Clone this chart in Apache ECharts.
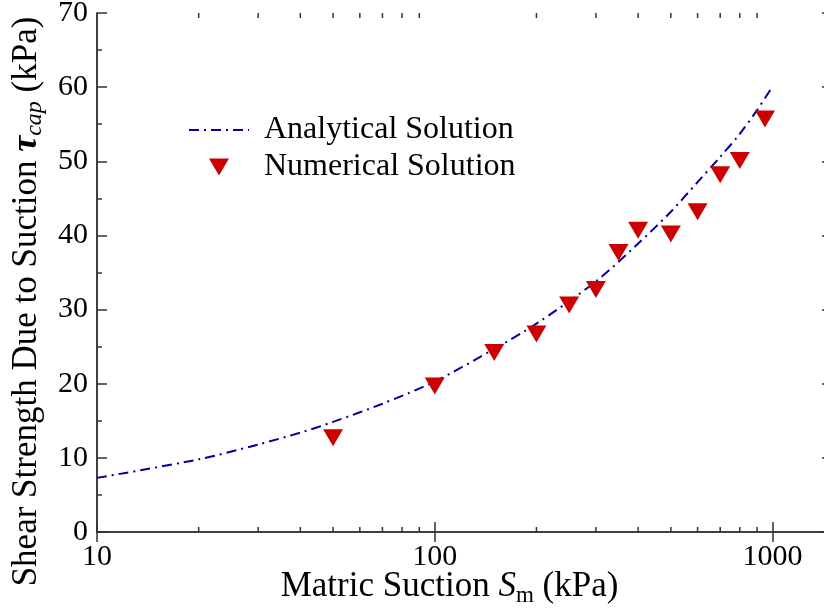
<!DOCTYPE html>
<html>
<head>
<meta charset="utf-8">
<script src="https://cdn.jsdelivr.net/npm/echarts@6/dist/echarts.min.js"></script>
<style>
  html, body { margin: 0; padding: 0; background: #fff; }
  #chart { width: 824px; height: 608px; }
</style>
</head>
<body>
<div id="chart"></div>
<script>
// Analytical curve: matric suction (kPa) vs. shear strength due to suction (kPa)
const analyticalSuction = [10, 20, 30, 40, 50, 70, 100, 150, 200, 300, 400, 500, 600, 700, 800, 900, 1000];
const analyticalStrength = [7.3, 9.8, 11.8, 13.4, 14.85, 17.3, 20.3, 24.7, 28.1, 33.8, 38.9, 43.2, 47.2, 50.6, 53.7, 56.9, 60.1];

// Numerical results
const numericalSuction = [50, 100, 150, 200, 250, 300, 350, 400, 500, 600, 700, 800, 950];
const numericalStrength = [12.7, 19.7, 24.2, 26.7, 30.6, 32.7, 37.7, 40.7, 40.2, 43.2, 48.2, 50.1, 55.7];

// Intermediate (minor) ticks of the logarithmic suction axis
const xMinorTicks = [20, 30, 40, 50, 60, 70, 80, 90, 200, 300, 400, 500, 600, 700, 800, 900];

const X_MIN = 10, X_MAX = 1500;
const Y_MIN = 0, Y_MAX = 70, Y_STEP = 10;

const FONT = 'Liberation Serif';
const AXIS_COLOR = '#333';

const chart = echarts.init(document.getElementById('chart'), null, { renderer: 'canvas' });

const xAxisBase = {
  type: 'log', logBase: 10, min: X_MIN, max: X_MAX,
  axisLine: { show: true, lineStyle: { color: AXIS_COLOR, width: 1.6 } },
  axisTick: { show: true, inside: true, length: 10, lineStyle: { color: AXIS_COLOR, width: 1.5 } },
  splitLine: { show: false },
  minorTick: { show: false }
};
const yAxisBase = {
  type: 'value', min: Y_MIN, max: Y_MAX, interval: Y_STEP,
  axisLine: { show: true, lineStyle: { color: '#111', width: 1.6 } },
  axisTick: { show: true, inside: true, length: 10, lineStyle: { color: AXIS_COLOR, width: 1.5 } },
  minorTick: { show: true, splitNumber: 2, length: 5, lineStyle: { color: AXIS_COLOR, width: 1.5 } },
  splitLine: { show: false }
};

const tickLabel = { fontFamily: FONT, fontSize: 30, color: '#000' };

const option = {
  animation: false,
  backgroundColor: '#fff',
  grid: { left: 97, top: 13, right: -8, bottom: 76, outerBoundsMode: 'none', containLabel: false },
  legend: {
    orient: 'vertical', left: 183, top: 109,
    itemWidth: 60, itemHeight: 17, itemGap: 5,
    textStyle: { fontFamily: FONT, fontSize: 32, color: '#000', padding: [0, 0, 0, 10] },
    data: [
      { name: 'Analytical Solution', itemStyle: { opacity: 0 } },
      { name: 'Numerical Solution', icon: 'path://M0,0L20,0L10,17Z' }
    ]
  },
  xAxis: [
    Object.assign({}, xAxisBase, {
      position: 'bottom',
      axisLabel: Object.assign({
        margin: 10, showMaxLabel: false,
        formatter: function (v) { return String(Math.round(v)); }
      }, tickLabel),
      name: '{a|Matric Suction }{i|S}{sub|m}{a| (kPa)}',
      nameLocation: 'middle', nameGap: 35, nameMoveOverlap: false,
      nameTextStyle: {
        padding: [0, 30, 0, 0],
        rich: {
          a: { fontFamily: FONT, fontSize: 35, color: '#000', lineHeight: 40 },
          i: { fontFamily: FONT, fontSize: 35, fontStyle: 'italic', color: '#000', lineHeight: 40 },
          sub: { fontFamily: FONT, fontSize: 23, color: '#000', verticalAlign: 'bottom', lineHeight: 24 }
        }
      }
    }),
    Object.assign({}, xAxisBase, {
      position: 'top',
      axisLabel: { show: false }
    })
  ],
  yAxis: [
    Object.assign({}, yAxisBase, {
      position: 'left',
      axisLabel: Object.assign({ margin: 9 }, tickLabel),
      name: '{a|Shear Strength Due to Suction }{t|τ}{sub|cap}{a| (kPa)}',
      nameLocation: 'middle', nameGap: 50, nameRotate: 90, nameMoveOverlap: false,
      nameTextStyle: {
        padding: [0, 58, 0, 0],
        rich: {
          a: { fontFamily: FONT, fontSize: 35, color: '#000', lineHeight: 40 },
          t: { fontFamily: FONT, fontSize: 36, fontStyle: 'italic', fontWeight: 'bold', color: '#000', lineHeight: 40 },
          sub: { fontFamily: FONT, fontSize: 24, fontStyle: 'italic', color: '#000', verticalAlign: 'bottom', lineHeight: 25 }
        }
      }
    }),
    Object.assign({}, yAxisBase, {
      position: 'right',
      axisLine: { show: true, lineStyle: { color: AXIS_COLOR, width: 1.6 } },
      minorTick: { show: false },
      axisLabel: { show: false }
    })
  ],
  series: [
    {
      name: 'Analytical Solution',
      type: 'line',
      xAxisIndex: 0, yAxisIndex: 0,
      data: analyticalSuction.map((s, i) => [s, analyticalStrength[i]]),
      smooth: 0.3,
      showSymbol: false,
      symbol: 'none',
      lineStyle: { color: '#0000a0', width: 2, type: [10, 5, 2, 5] },
      itemStyle: { color: '#0000a0' },
      z: 2
    },
    {
      name: 'Numerical Solution',
      type: 'scatter',
      xAxisIndex: 0, yAxisIndex: 0,
      data: numericalSuction.map((s, i) => [s, numericalStrength[i]]),
      symbol: 'path://M0,0L20,0L10,17Z',
      symbolSize: [20, 17],
      itemStyle: { color: '#cc0000', opacity: 1 },
      z: 3
    },
    {
      // short intermediate tick marks along the bottom and top log axes
      name: 'minorTicks',
      type: 'custom',
      xAxisIndex: 0, yAxisIndex: 0,
      silent: true, clip: false, z: 5,
      data: xMinorTicks.map(v => [v, Y_MIN]),
      renderItem: function (params, api) {
        const v = api.value(0);
        const b = api.coord([v, Y_MIN]);
        const t = api.coord([v, Y_MAX]);
        const st = { stroke: AXIS_COLOR, lineWidth: 1.5 };
        return {
          type: 'group',
          children: [
            { type: 'line', shape: { x1: b[0], y1: b[1], x2: b[0], y2: b[1] - 5 }, style: st },
            { type: 'line', shape: { x1: t[0], y1: t[1], x2: t[0], y2: t[1] + 5 }, style: st }
          ]
        };
      }
    }
  ]
};

chart.setOption(option);
</script>
</body>
</html>
